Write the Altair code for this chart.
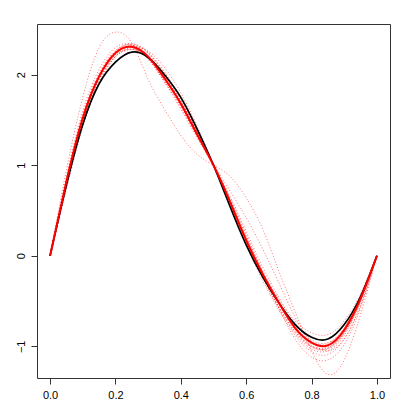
import altair as alt
import pandas as pd

x_grid = [0.0, 0.05, 0.1, 0.15, 0.2, 0.25, 0.3, 0.35, 0.4, 0.45, 0.5,
          0.55, 0.6, 0.65, 0.7, 0.75, 0.8, 0.85, 0.9, 0.95, 1.0]

true_curve = [0, 0.78, 1.45, 1.9, 2.14, 2.25, 2.19, 2.0, 1.75, 1.4, 1.0,
              0.55, 0.12, -0.23, -0.52, -0.76, -0.9, -0.92, -0.76, -0.45, 0]

mean_curve = [0, 0.82, 1.52, 1.98, 2.24, 2.31, 2.2, 1.96, 1.68, 1.34, 1.0,
              0.6, 0.17, -0.2, -0.52, -0.8, -0.96, -0.99, -0.82, -0.47, 0]

sim_a = [0, 0.95, 1.75, 2.3, 2.47, 2.35, 1.95, 1.62, 1.33, 1.12, 1.0,
         0.88, 0.64, 0.3, -0.17, -0.62, -1.05, -1.31, -1.15, -0.65, 0]
sim_b = [0, 0.85, 1.56, 2.02, 2.27, 2.33, 2.22, 1.98, 1.7, 1.36, 1.0,
         0.62, 0.2, -0.18, -0.52, -0.82, -1.0, -1.03, -0.86, -0.5, 0]
sim_c = [0, 0.8, 1.5, 1.97, 2.23, 2.3, 2.2, 1.97, 1.69, 1.35, 1.0,
         0.6, 0.18, -0.2, -0.53, -0.8, -0.97, -0.98, -0.8, -0.45, 0]
sim_d = [0, 0.78, 1.47, 1.95, 2.22, 2.32, 2.24, 2.02, 1.73, 1.38, 1.0,
         0.58, 0.15, -0.24, -0.58, -0.86, -1.03, -1.05, -0.88, -0.5, 0]
sim_e = [0, 0.83, 1.52, 1.98, 2.24, 2.3, 2.18, 1.93, 1.65, 1.32, 1.0,
         0.64, 0.24, -0.18, -0.58, -0.92, -1.12, -1.15, -0.98, -0.58, 0]
sim_f = [0, 0.8, 1.5, 1.95, 2.2, 2.28, 2.2, 1.98, 1.7, 1.37, 1.02,
         0.72, 0.42, 0.08, -0.3, -0.68, -0.95, -1.05, -0.92, -0.55, 0]
sim_g = [0, 0.76, 1.44, 1.92, 2.2, 2.28, 2.2, 1.98, 1.7, 1.36, 1.0,
         0.6, 0.19, -0.18, -0.48, -0.72, -0.85, -0.87, -0.72, -0.42, 0]
sim_h = [0, 0.84, 1.55, 2.0, 2.25, 2.3, 2.17, 1.92, 1.64, 1.32, 1.0,
         0.63, 0.22, -0.16, -0.5, -0.78, -0.95, -0.97, -0.8, -0.46, 0]
sim_i = [0, 0.8, 1.5, 1.99, 2.26, 2.34, 2.24, 2.0, 1.71, 1.37, 1.0,
         0.6, 0.17, -0.22, -0.56, -0.84, -1.01, -1.02, -0.84, -0.48, 0]
sim_j = [0, 0.82, 1.53, 1.98, 2.22, 2.28, 2.19, 1.97, 1.68, 1.34, 1.0,
         0.61, 0.2, -0.18, -0.52, -0.81, -0.99, -1.01, -0.85, -0.5, 0]
sim_k = [0, 0.79, 1.49, 1.97, 2.25, 2.34, 2.25, 2.03, 1.74, 1.39, 1.0,
         0.57, 0.14, -0.24, -0.57, -0.84, -1.0, -1.02, -0.85, -0.49, 0]
sim_l = [0, 0.74, 1.42, 1.9, 2.2, 2.3, 2.26, 2.08, 1.8, 1.43, 1.0,
         0.55, 0.12, -0.27, -0.6, -0.88, -1.06, -1.09, -0.92, -0.54, 0]
sim_m = [0, 0.87, 1.6, 2.06, 2.3, 2.33, 2.18, 1.92, 1.62, 1.3, 1.0,
         0.66, 0.27, -0.12, -0.46, -0.75, -0.93, -0.96, -0.8, -0.46, 0]

sims = [sim_a, sim_b, sim_c, sim_d, sim_e, sim_f, sim_g, sim_h, sim_i,
        sim_j, sim_k, sim_l, sim_m]

x_ticks = [0.0, 0.2, 0.4, 0.6, 0.8, 1.0]
y_ticks = [-1, 0, 1, 2]

rows = []
for k, s in enumerate(sims):
    for xv, yv in zip(x_grid, s):
        rows.append({"x": xv, "y": yv, "run": k})
sim_df = pd.DataFrame(rows)
true_df = pd.DataFrame({"x": x_grid, "y": true_curve})
mean_df = pd.DataFrame({"x": x_grid, "y": mean_curve})

xs = alt.Scale(domain=[-0.04, 1.04], nice=False, zero=False)
ys = alt.Scale(domain=[-1.35, 2.56], nice=False, zero=False)

x_axis = alt.Axis(values=x_ticks, format=".1f", title=None, grid=False, domain=False,
                  tickSize=6, tickColor="#333", labelFont="Liberation Sans",
                  labelFontSize=11, labelColor="black", labelPadding=5)
y_axis = alt.Axis(values=y_ticks, format="d", title=None, grid=False, domain=False,
                  tickSize=6, tickColor="#333", labelFont="Liberation Sans",
                  labelFontSize=11, labelColor="black", labelAngle=270,
                  labelAlign="center", labelBaseline="bottom", labelPadding=5)

sim_layer = alt.Chart(sim_df).mark_line(
    color="red", strokeWidth=1, strokeDash=[1, 2], opacity=0.55, interpolate="natural"
).encode(
    x=alt.X("x:Q", scale=xs, axis=x_axis),
    y=alt.Y("y:Q", scale=ys, axis=y_axis),
    detail="run:N",
)

true_layer = alt.Chart(true_df).mark_line(
    color="black", strokeWidth=1.7, interpolate="natural"
).encode(x=alt.X("x:Q", scale=xs), y=alt.Y("y:Q", scale=ys))

mean_layer = alt.Chart(mean_df).mark_line(
    color="red", strokeWidth=2, interpolate="natural"
).encode(x=alt.X("x:Q", scale=xs), y=alt.Y("y:Q", scale=ys))

chart = alt.layer(sim_layer, true_layer, mean_layer).properties(
    width=353, height=354,
    autosize=alt.AutoSizeParams(type="none"),
    padding={"left": 29, "top": 16, "right": 10, "bottom": 30},
).configure_view(stroke="#333", strokeWidth=1)

chart.save("out.html", embed_options={"renderer": "svg", "actions": False})
